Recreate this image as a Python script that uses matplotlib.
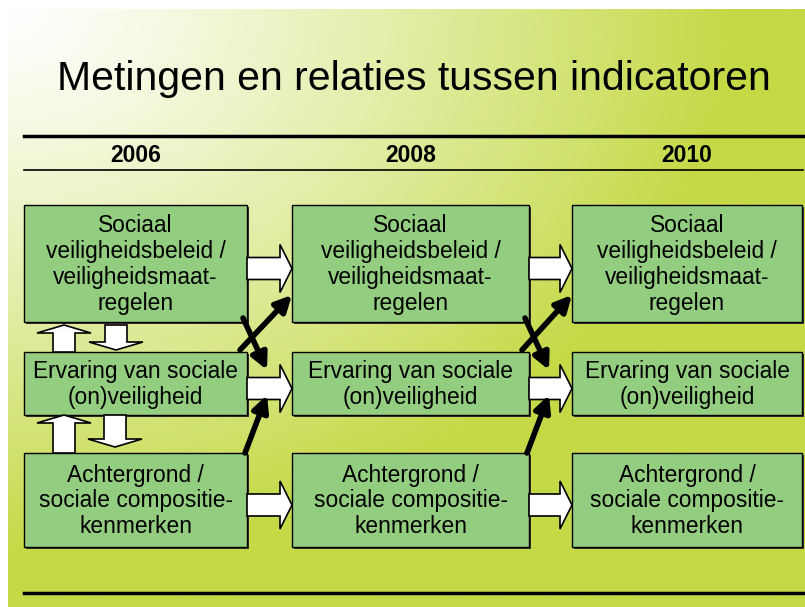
import numpy as np
import matplotlib
matplotlib.use("Agg")
import matplotlib.pyplot as plt
from matplotlib.patches import Rectangle, Polygon, FancyArrowPatch

# teksten
title = "Metingen en relaties tussen indicatoren"
years = ["2006", "2008", "2010"]
box_labels = [
    "Sociaal\nveiligheidsbeleid /\nveiligheidsmaat-\nregelen",
    "Ervaring van sociale\n(on)veiligheid",
    "Achtergrond /\nsociale compositie-\nkenmerken",
]

# layout (pixels)
col_x = [(24, 247), (292, 529), (572, 802)]
row_y = [(205, 322), (352, 415), (453, 547)]
W, H = 805, 607

plt.rcParams['font.family'] = ['Liberation Sans', 'DejaVu Sans']
fig = plt.figure(figsize=(W / 100, H / 100), dpi=100)
ax = fig.add_axes([0, 0, 1, 1])
ax.set_xlim(0, W)
ax.set_ylim(H, 0)
ax.axis('off')

# achtergrond verloop
xx, yy = np.meshgrid(np.linspace(0, 1, 400), np.linspace(0, 1, 300))
r = np.clip(np.sqrt(xx ** 2 + yy ** 2) * 1.1, 0, 1) ** 1.2
white = np.array([1.0, 1.0, 1.0])
green = np.array([197, 217, 70]) / 255
img = white[None, None, :] * (1 - r[..., None]) + green[None, None, :] * r[..., None]
ax.imshow(img, extent=[8, W, H, 9], aspect='auto', zorder=0)

# titel + lijnen
ax.text(414, 90, title, fontsize=29.5, ha='center', va='baseline', zorder=5)
ax.plot([24, 803], [136, 136], color='black', lw=2.5, zorder=3)
ax.plot([24, 803], [170, 170], color='black', lw=1.2, zorder=3)
ax.plot([24, 803], [593, 593], color='black', lw=2.5, zorder=3)
for (x0, x1), yr in zip(col_x, years):
    ax.text((x0 + x1) / 2, 155, yr, fontsize=16.5, fontweight='bold',
            ha='center', va='center', zorder=5)

# blokken
for (x0, x1) in col_x:
    for (y0, y1), lab in zip(row_y, box_labels):
        ax.add_patch(Rectangle((x0 + 2, y0 + 2), x1 - x0, y1 - y0,
                               facecolor='#333333', edgecolor='none', zorder=2))
        ax.add_patch(Rectangle((x0, y0), x1 - x0, y1 - y0, facecolor='#93cd7f',
                               edgecolor='black', lw=1, zorder=3))
        ax.text((x0 + x1) / 2, (y0 + y1) / 2 + 1, lab, fontsize=16.4,
                ha='center', va='center', linespacing=1.15, zorder=5)


def block_arrow_h(x0, x1, yc, shaft=22, head=48, hl=12):
    pts = [(x0, yc - shaft / 2), (x1 - hl, yc - shaft / 2), (x1 - hl, yc - head / 2),
           (x1, yc), (x1 - hl, yc + head / 2), (x1 - hl, yc + shaft / 2), (x0, yc + shaft / 2)]
    ax.add_patch(Polygon(pts, closed=True, facecolor='white', edgecolor='black',
                         lw=1.2, zorder=4))


def block_arrow_v(xc, y0, y1, shaft=22, head=54, hl=8):
    d = 1 if y1 > y0 else -1
    pts = [(xc - shaft / 2, y0), (xc - shaft / 2, y1 - d * hl), (xc - head / 2, y1 - d * hl),
           (xc, y1), (xc + head / 2, y1 - d * hl), (xc + shaft / 2, y1 - d * hl),
           (xc + shaft / 2, y0)]
    ax.add_patch(Polygon(pts, closed=True, facecolor='white', edgecolor='black',
                         lw=1.2, zorder=4))


def black_arrow(p0, p1):
    ax.add_patch(FancyArrowPatch(p0, p1, arrowstyle='-|>', mutation_scale=24,
                                 lw=4, color='black', shrinkA=0, shrinkB=0, zorder=6))


# horizontale pijlen
for k in range(2):
    xa = col_x[k][1]
    xb = col_x[k + 1][0]
    for (y0, y1) in row_y:
        block_arrow_h(xa, xb, (y0 + y1) / 2 + 5)
    # diagonale pijlen
    black_arrow((xa - 7, 350), (xb, 295))
    black_arrow((xa - 4, 318), (xa + 20, 370))
    black_arrow((xa - 2, 453), (xa + 20, 395))

# verticale pijlen in kolom 2006
block_arrow_v(64, 352, 325)
block_arrow_v(116, 325, 350)
block_arrow_v(64, 453, 415)
block_arrow_v(115, 415, 447)

fig.savefig("out.png", dpi=100)
